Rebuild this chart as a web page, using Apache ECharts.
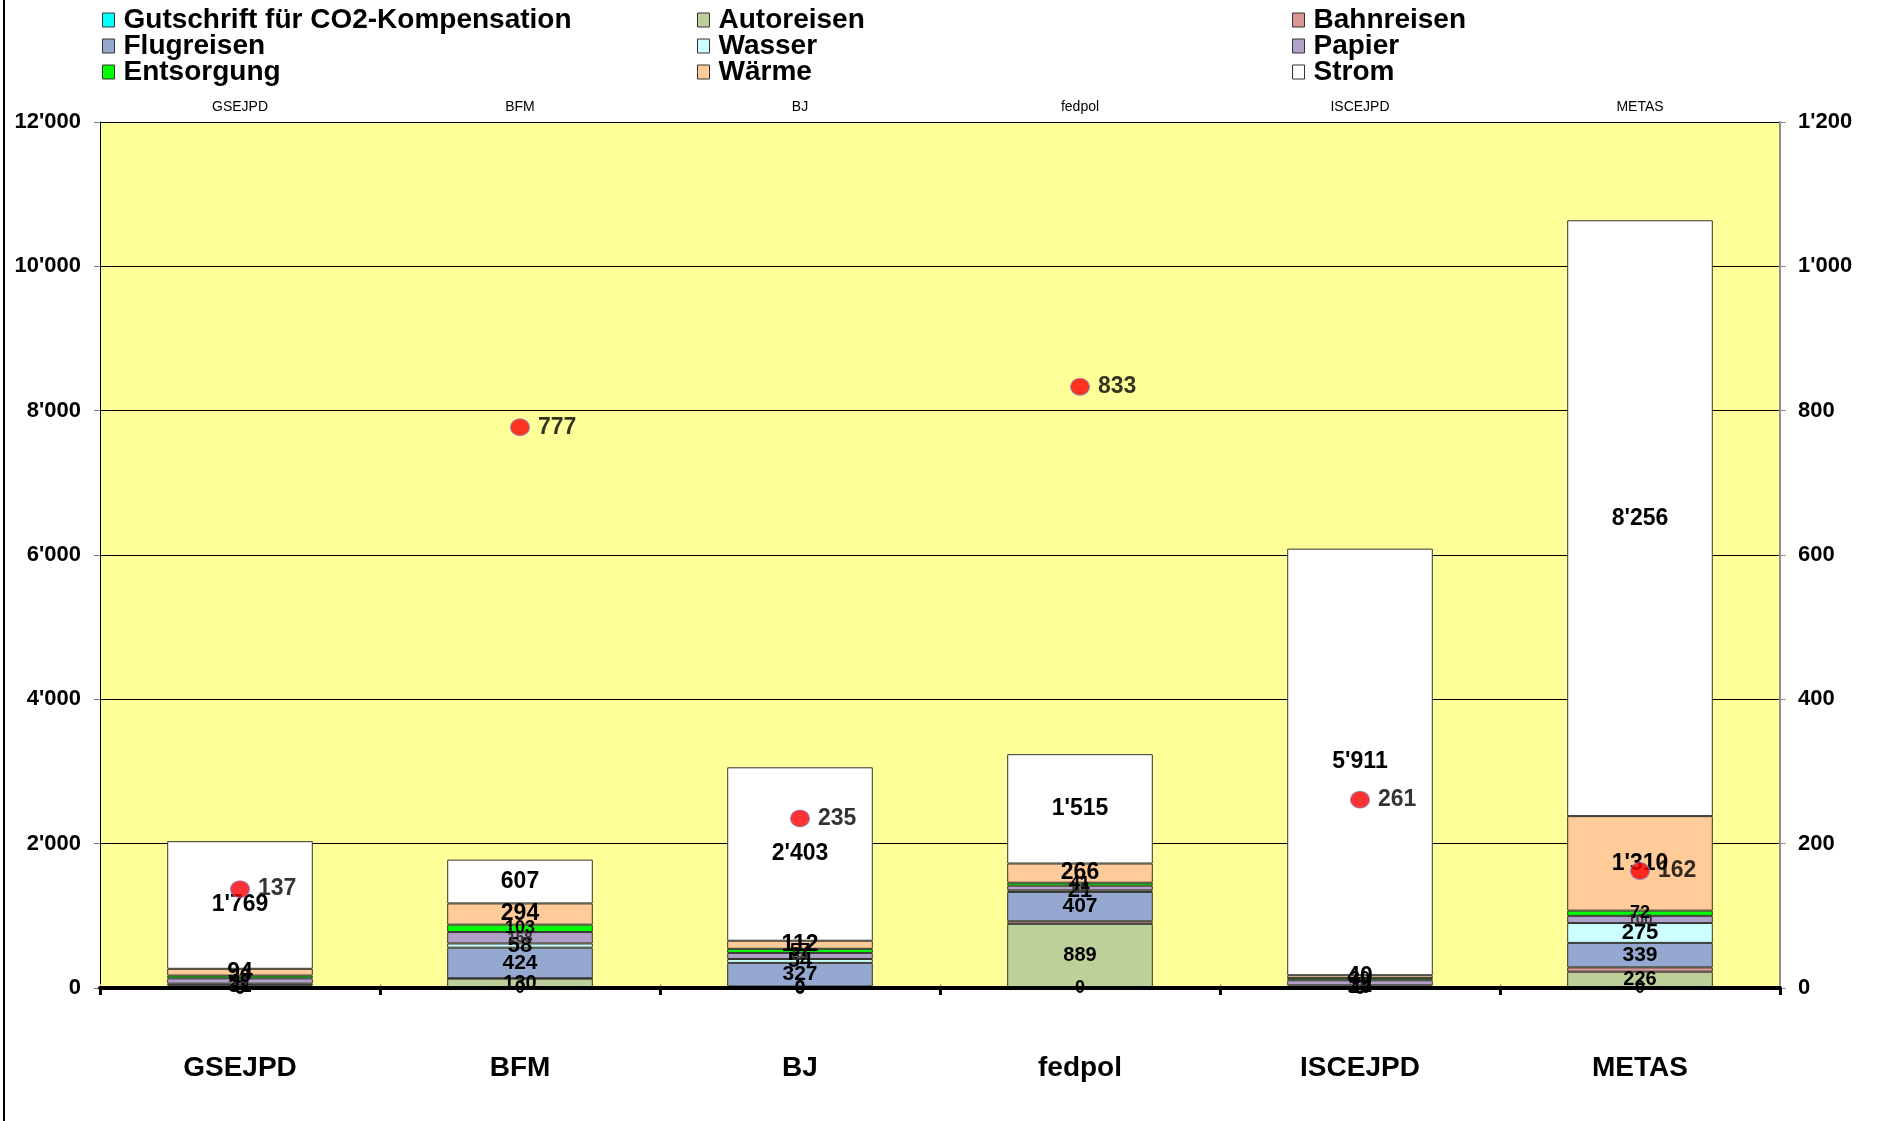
<!DOCTYPE html>
<html>
<head>
<meta charset="utf-8">
<script src="https://cdn.jsdelivr.net/npm/echarts@6/dist/echarts.min.js"></script>
<style>
  html, body { margin: 0; padding: 0; background: #ffffff; }
  #chart { width: 1892px; height: 1121px; }
</style>
</head>
<body>
<div id="chart"></div>
<script>
// Departments (Ämter)
const categories = ['GSEJPD', 'BFM', 'BJ', 'fedpol', 'ISCEJPD', 'METAS'];

// Stacked components, bottom to top
const gutschrift  = [0, 0, 0, 0, 0, 0];
const autoreisen  = [0, 130, 0, 889, 0, 226];
const bahnreisen  = [8, 5, 21, 35, 5, 60];
const flugreisen  = [31, 424, 327, 407, 10, 339];
const wasser      = [21, 58, 54, 21, 22, 275];
const papier      = [74, 158, 84, 66, 70, 100];
const entsorgung  = [38, 103, 57, 41, 30, 72];
const waerme      = [94, 294, 112, 266, 40, 1310];
const strom       = [1769, 607, 2403, 1515, 5911, 8256];

// Values on the secondary axis (red markers)
const punkte      = [137, 777, 235, 833, 261, 162];

const leftTicks  = [0, 2000, 4000, 6000, 8000, 10000, 12000];
const rightTicks = [0, 200, 400, 600, 800, 1000, 1200];

function fmt(v) {
  return String(v).replace(/\B(?=(\d{3})+(?!\d))/g, "'");
}

const FONT = 'Liberation Sans, Arial, sans-serif';

const stackDefs = [
  { name: 'Gutschrift für CO2-Kompensation', data: gutschrift, color: '#00FFFF', size: 18 },
  { name: 'Autoreisen', data: autoreisen, color: '#BDD09A', size: 20 },
  { name: 'Bahnreisen', data: bahnreisen, color: '#D99694', size: 18, noLabel: true },
  { name: 'Flugreisen', data: flugreisen, color: '#94A8D0', size: 21 },
  { name: 'Wasser', data: wasser, color: '#CCFFFF', size: 22 },
  { name: 'Papier', data: papier, color: '#B1A0C7', size: 15, gray: true },
  { name: 'Entsorgung', data: entsorgung, color: '#00FF00', size: 18 },
  { name: 'Wärme', data: waerme, color: '#FFCC99', size: 23 },
  { name: 'Strom', data: strom, color: '#FFFFFF', size: 23 }
];

const barSeries = stackDefs.map(d => ({
  name: d.name,
  type: 'bar',
  stack: 'total',
  barWidth: '52%',
  data: d.data,
  itemStyle: { color: d.color, borderColor: '#333333', borderWidth: 1 },
  label: {
    show: !d.noLabel,
    position: 'inside',
    formatter: p => fmt(p.value),
    color: d.gray ? '#333333' : '#000000',
    fontFamily: FONT,
    fontWeight: 'bold',
    fontSize: d.size
  },
  emphasis: { disabled: true }
}));

const scatterSeries = {
  name: 'Punkte',
  type: 'scatter',
  yAxisIndex: 1,
  xAxisIndex: 0,
  symbol: 'circle',
  symbolSize: [19, 17],
  data: punkte,
  z: 10,
  itemStyle: { color: '#FF0000', borderColor: '#8080C0', borderWidth: 1 },
  label: {
    show: true,
    position: 'right',
    distance: 8,
    formatter: p => fmt(p.value),
    color: '#000000',
    fontFamily: FONT,
    fontWeight: 'bold',
    fontSize: 23
  }
};

function legendCol(left, names) {
  return {
    orient: 'vertical',
    left: left,
    top: 1,
    itemWidth: 12,
    itemHeight: 14,
    itemGap: -2,
    icon: 'rect',
    data: names,
    selectedMode: false,
    itemStyle: { borderColor: '#333333', borderWidth: 1 },
    textStyle: {
      fontFamily: FONT,
      fontWeight: 'bold',
      fontSize: 28,
      color: '#000000',
      lineHeight: 26,
      padding: [0, 0, 0, 4]
    }
  };
}

const option = {
  animation: false,
  backgroundColor: '#FFFFFF',
  legend: [
    legendCol(97, ['Gutschrift für CO2-Kompensation', 'Flugreisen', 'Entsorgung']),
    legendCol(692, ['Autoreisen', 'Wasser', 'Wärme']),
    legendCol(1287, ['Bahnreisen', 'Papier', 'Strom'])
  ],
  grid: {
    left: 100, right: 112, top: 122, bottom: 133,
    show: true,
    backgroundColor: '#FFFF99',
    borderWidth: 0
  },
  xAxis: [
    {
      type: 'category',
      data: categories,
      position: 'bottom',
      axisLine: { show: true, lineStyle: { color: '#000000', width: 4 } },
      axisTick: { show: true, length: 7, lineStyle: { color: '#000000', width: 3 } },
      axisLabel: {
        margin: 66,
        fontFamily: FONT,
        fontWeight: 'bold',
        fontSize: 28,
        color: '#000000'
      },
      z: 5
    },
    {
      type: 'category',
      data: categories,
      position: 'top',
      axisLine: { show: true, lineStyle: { color: '#A0A0A0', width: 1 } },
      axisTick: { show: true, length: 4, lineStyle: { color: '#A0A0A0' } },
      axisLabel: {
        margin: 8,
        fontFamily: FONT,
        fontSize: 14,
        color: '#000000'
      }
    }
  ],
  yAxis: [
    {
      type: 'value',
      min: 0, max: 12000, interval: 2000,
      position: 'left',
      axisLine: { show: true, lineStyle: { color: '#000000', width: 1 } },
      axisTick: { show: true, length: 6, lineStyle: { color: '#808080' } },
      axisLabel: {
        margin: 19,
        formatter: v => leftTicks.includes(v) ? fmt(v) : '',
        fontFamily: FONT,
        fontWeight: 'bold',
        fontSize: 22,
        color: '#000000'
      },
      splitLine: { show: true, lineStyle: { color: '#000000', width: 1 } }
    },
    {
      type: 'value',
      min: 0, max: 1200, interval: 200,
      position: 'right',
      axisLine: { show: true, lineStyle: { color: '#909090', width: 2 } },
      axisTick: { show: true, length: 6, lineStyle: { color: '#909090' } },
      axisLabel: {
        margin: 18,
        formatter: v => rightTicks.includes(v) ? fmt(v) : '',
        fontFamily: FONT,
        fontWeight: 'bold',
        fontSize: 22,
        color: '#000000'
      },
      splitLine: { show: false }
    }
  ],
  graphic: [
    {
      type: 'line',
      shape: { x1: 4, y1: 0, x2: 4, y2: 1121 },
      style: { stroke: '#000000', lineWidth: 2 },
      silent: true
    }
  ],
  series: [...barSeries, scatterSeries]
};

const chart = echarts.init(document.getElementById('chart'), null, { renderer: 'canvas' });
chart.setOption(option);
</script>
</body>
</html>
